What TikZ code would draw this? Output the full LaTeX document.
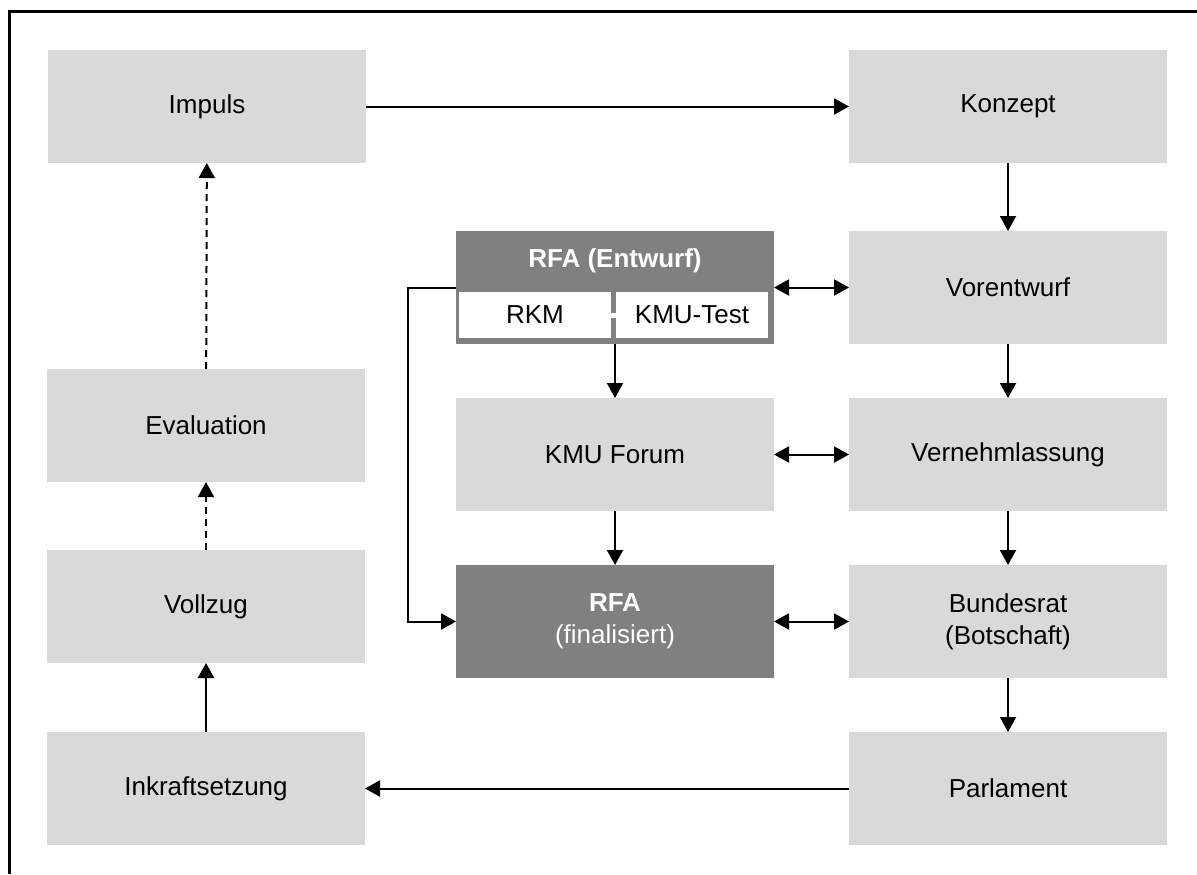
\documentclass[tikz,border=0pt]{standalone}
\usepackage{fontspec}
\setmainfont{Liberation Sans}
\usetikzlibrary{positioning, arrows.meta}
\definecolor{boxgray}{HTML}{D9D9D9}
\definecolor{rfagray}{HTML}{808080}
\tikzstyle{bx} = [rectangle, fill=boxgray, text centered, align=center, minimum width=159pt, minimum height=56.5pt, inner sep=0pt, outer sep=0pt]
\tikzstyle{dk} = [bx, fill=rfagray, text=white]
\tikzstyle{cl} = [rectangle, fill=white, text centered, minimum width=76pt, minimum height=23pt, inner sep=0pt, outer sep=0pt]
\tikzstyle{ar} = [line width=1pt, -{Triangle[width=8pt,length=7.5pt]}]
\tikzstyle{ar2} = [line width=1pt, {Triangle[width=8pt,length=7.5pt]}-{Triangle[width=8pt,length=7.5pt]}]
\tikzstyle{da} = [ar, dash pattern=on 3.5pt off 2.5pt]

\begin{document}
\begin{tikzpicture}[node distance=27pt, font=\fontsize{13pt}{16pt}\selectfont]
	\useasboundingbox (0,0) rectangle (598.5pt,-437pt);
	\draw [line width=1.5pt] (598.5pt,-5.5pt) -- (4.5pt,-5.5pt) -- (4.5pt,-437pt);
	% outer ring
	\node [bx, anchor=north west] (imp) at (24pt,-25pt) {Impuls};
	\node [bx, right = 241.5pt of imp] (kon) {Konzept};
	\node [bx, below = 34pt of kon] (vor) {Vorentwurf};
	\node [bx, below = of vor] (ver) {Vernehmlassung};
	\node [bx, below = of ver] (bun) {Bundesrat\\(Botschaft)};
	\node [bx, below = of bun] (par) {Parlament};
	\node [bx, left = 242pt of par] (ink) {Inkraftsetzung};
	\node [bx, above = 34.5pt of ink] (vol) {Vollzug};
	\node [bx, above = 34pt of vol] (eva) {Evaluation};
	% middle column
	\node [dk, left = 37.5pt of vor] (rfae) {};
	\node [bx, left = 37.5pt of ver] (kmu) {KMU Forum};
	\node [dk, left = 37.5pt of bun] (rfaf) {\textbf{RFA}\\(finalisiert)};
	\node [below = 0pt of rfae.north, minimum height=29pt, inner sep=0pt, text=white] (rfah) {\textbf{RFA (Entwurf)}};
	\node [cl, anchor=south west] (rkm) at ([shift={(1.5pt,3pt)}]rfae.south west) {RKM};
	\node [cl, anchor=south east] (kmut) at ([shift={(-3pt,3pt)}]rfae.south east) {KMU-Test};
	\draw [white, line width=2.5pt] (rkm.east) -- (kmut.west);
	% connectors
	\draw [ar] (imp) -- (kon);
	\draw [ar] (kon) -- (vor);
	\draw [ar] (vor) -- (ver);
	\draw [ar] (ver) -- (bun);
	\draw [ar] (bun) -- (par);
	\draw [ar] (par) -- (ink);
	\draw [ar] (ink) -- (vol);
	\draw [da] (vol) -- (eva);
	\draw [da] (eva) -- (imp);
	\draw [ar2] (rfae) -- (vor);
	\draw [ar2] (kmu) -- (ver);
	\draw [ar2] (rfaf) -- (bun);
	\draw [ar] (rfae) -- (kmu);
	\draw [ar] (kmu) -- (rfaf);
	\draw [ar] (rfae.west) -- ++(-24pt,0) |- (rfaf.west);
\end{tikzpicture}
\end{document}
